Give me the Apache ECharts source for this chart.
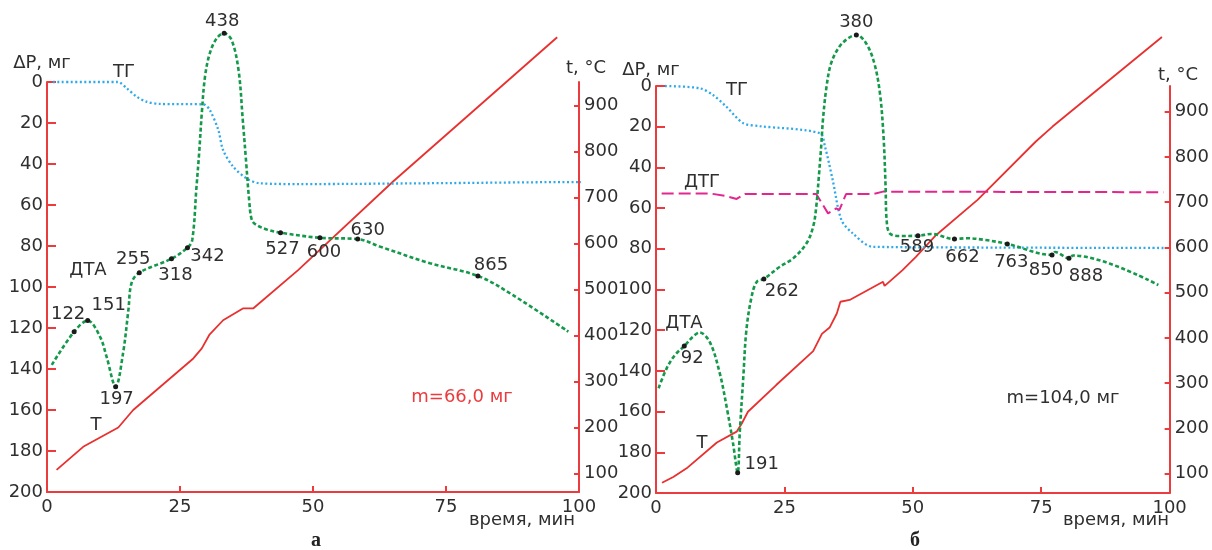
<!DOCTYPE html>
<html><head><meta charset="utf-8">
<script src="https://cdn.jsdelivr.net/npm/echarts@6/dist/echarts.min.js"></script>
<style>html,body{margin:0;padding:0;background:#fff}#c{width:1212px;height:550px}</style>
</head><body><div id="c"></div>
<script>
// ---------- DATA (time in min, ΔP in mg, t in °C) ----------
const timeTicks = [0, 25, 50, 75, 100];
const massTicks = [0, 20, 40, 60, 80, 100, 120, 140, 160, 180, 200];
const tempTicks = [100, 200, 300, 400, 500, 600, 700, 800, 900];

// Panel а
const tgA = [[1.1,0],[13.3,0],[15,3.1],[16.9,7.2],[18.7,9.6],[21.2,10.7],[29.4,10.9],[30.6,13.7],[32.2,23.4],[33.1,33.2],[35,41.3],[37.5,47],[40,49.4],[47.6,49.8],[75.8,49.3],[100,48.8],[101.7,48.8]];
const dtaA = [[0.9,138],[5.1,121.8],[7.65,116.4],[9.96,124.2],[11.2,134],[12.9,148.6],[14.3,132.2],[15.3,111.2],[15.9,98],[17.35,93],[23.4,86.2],[26.4,80.8],[27.3,77.1],[28.1,51.1],[28.6,34.6],[29.1,15.1],[29.7,-2.6],[30.6,-14],[31.9,-21.3],[33.3,-23.8],[34.7,-20.5],[36,-5.9],[36.8,18.5],[37.4,38],[38,57.6],[38.5,67.3],[39.4,69.8],[41.3,71.9],[43.9,73.5],[51.3,76],[58.4,76.6],[62.6,80.3],[72,88.4],[81,94.6],[87.6,104],[98,121.8]];
const tA = [[1.8,108],[6.8,158],[13.4,200],[16.2,238],[27.5,350],[29.1,372],[30.5,401],[33.1,433],[36.9,459],[38.8,459],[47.2,542],[65,734],[95.9,1048]];
const dotsA = [[5.1,121.8,'122'],[7.65,116.4,'151'],[12.9,148.6,'197'],[17.35,93,'255'],[23.4,86.2,'318'],[26.4,80.8,'342'],[33.3,-23.8,'438'],[43.9,73.5,'527'],[51.3,76,'600'],[58.4,76.6,'630'],[81,94.6,'865']];

// Panel б
const tgB = [[1.75,0],[8.5,1.1],[11.1,4.4],[13.7,10.2],[17,18.3],[20.2,19.7],[31.9,23.2],[32.9,29.8],[34.4,46.2],[36.1,65.8],[38.3,72.4],[42.2,79],[66.8,79.4],[98.8,79.6]];
const dtgB = [[1.1,52.8],[10.5,52.8],[13.4,54],[15.7,55.5],[17.3,53.1],[31.2,53.1],[33.5,62.6],[35.1,60.1],[35.7,60.9],[37,53.1],[42.2,53.1],[44.2,51.9],[98.8,52.2]];
const dtaB = [[0.5,148.5],[2.1,138.6],[3.7,132.2],[5.5,127.8],[7.2,123.2],[8.5,121.1],[10.5,126],[12.4,141],[13.9,159.7],[15,175.6],[15.9,190],[16.3,170.7],[17,142.9],[17.6,119.9],[18.6,103.7],[19.6,96.3],[21,94.8],[24.1,88.8],[26.7,84.7],[29.3,77.3],[30.6,69.1],[31.2,59.3],[31.7,44.6],[32.2,28.2],[32.5,16.7],[33.2,0.3],[34.1,-11.2],[35.7,-19.3],[37.4,-23.4],[39,-25.1],[40.9,-21],[42.5,-11.2],[43.6,3.6],[44.3,24.9],[44.7,49.5],[44.9,65.8],[45.5,72.4],[47.4,73.7],[51,73.6],[53.6,72.7],[58.1,75.2],[60.4,74.8],[64.2,75.7],[68.4,77.6],[77.1,83],[77.7,81.6],[80.4,84.7],[81.2,83.3],[97.8,97.8]];
const tB = [[1.17,80],[3.36,93],[5.96,112],[11.85,169],[15.7,193],[16.7,211],[17.9,237],[23.4,296],[30.6,371],[32.3,409],[33.8,423],[35.2,454],[35.9,480],[37.7,484],[44.2,524],[44.5,515],[44.9,519],[48,550],[50.6,579],[54.5,627],[62.6,705],[73.95,834],[77.2,867],[98.5,1065]];
const dotsB = [[5.5,127.8,'92'],[15.9,190,'191'],[21,94.8,'262'],[39,-25.1,'380'],[51,73.6,'589'],[58.1,75.2,'662'],[68.4,77.6,'763'],[77.1,83,'850'],[80.4,84.7,'888']];

// ---------- STYLE ----------
const RED = '#ec3b3d', TRED = '#e8302f', GREEN = '#14994a', BLUE = '#2ea9ea', MAG = '#e2258f', TXT = '#2f2f2f';
const FONT = 'DejaVu Sans';
const FS = 18;
// label offsets (px) relative to each marked point
const offA = {'122':[-6,-17],'151':[21,-15],'197':[1,13],'255':[-6,-13],'318':[4,17],'342':[20,9],'438':[-2,-12],'527':[2,17],'600':[4,15],'630':[10,-9],'865':[13,-11]};
const offB = {'92':[8,12],'191':[24,-8],'262':[18,12],'380':[0,-13],'589':[-1,12],'662':[8,18],'763':[4,18],'850':[-6,15],'888':[17,18]};

const lbl = {color: TXT, fontFamily: FONT, fontSize: FS};

function xAx(g){
  return {type:'value', gridIndex:g, min:0, max:100, interval:25,
    axisLine:{onZero:false, lineStyle:{color:RED, width:2}},
    axisTick:{inside:true, length:6, lineStyle:{color:RED, width:2}},
    axisLabel:Object.assign({margin:6}, lbl), splitLine:{show:false}};
}
function yLeft(g){
  return {type:'value', gridIndex:g, position:'left', min:0, max:200, interval:20, inverse:true,
    axisLine:{show:true, onZero:false, lineStyle:{color:RED, width:2}},
    axisTick:{show:true, inside:true, length:9, lineStyle:{color:RED, width:2}},
    axisLabel:Object.assign({margin:4}, lbl), splitLine:{show:false}};
}
function yRight(g, mn, mx){
  return {type:'value', gridIndex:g, position:'right', min:mn, max:mx,
    axisLine:{show:true, onZero:false, lineStyle:{color:RED, width:2}},
    axisTick:{show:true, inside:true, length:5, customValues:tempTicks, lineStyle:{color:RED, width:2}},
    axisLabel:Object.assign({margin:5, customValues:tempTicks}, lbl), splitLine:{show:false}};
}
function lineS(data, xi, yi, color, type, width, smooth){
  return {type:'line', xAxisIndex:xi, yAxisIndex:yi, data:data, symbol:'none', clip:false,
    smooth:smooth, smoothMonotone:'none', silent:true, z:3,
    lineStyle:{color:color, type:type, width:width}};
}
function dotS(dots, xi, yi, off){
  return {type:'scatter', xAxisIndex:xi, yAxisIndex:yi, symbolSize:5, clip:false, z:5, silent:true,
    itemStyle:{color:'#1a1a1a', opacity:1},
    data: dots.map(d => ({value:[d[0], d[1]], name:d[2],
      label:{show:true, position:'inside', offset:off[d[2]], formatter:d[2], color:TXT,
        textBorderWidth:0, textBorderColor:'transparent', textShadowBlur:0,
        fontFamily:FONT, fontSize:FS, align:'center', verticalAlign:'middle'}}))};
}
function txt(s, x, y, opt){
  opt = opt || {};
  return {type:'text', x:x, y:y, z:10, silent:true,
    style:{text:s, fill:opt.color || TXT, font:(opt.font || (FS + 'px "' + FONT + '"')),
      align:'center', verticalAlign:'middle', textAlign:'center', textVerticalAlign:'middle'}};
}

const option = {
  animation:false,
  backgroundColor:'#fff',
  grid:[
    {left:47, top:82, width:532, height:410, containLabel:false},
    {left:656, top:86, width:515, height:407, containLabel:false}
  ],
  xAxis:[xAx(0), xAx(1)],
  yAxis:[yLeft(0), yRight(0, 59.8, 950.7), yLeft(1), yRight(1, 57.5, 956.6)],
  series:[
    lineS(tA, 0, 1, TRED, 'solid', 1.8, false),
    lineS(tgA, 0, 0, BLUE, [2,2.5], 2.3, 0.3),
    lineS(dtaA, 0, 0, GREEN, [4,2.5], 2.6, 0.35),
    dotS(dotsA, 0, 0, offA),
    lineS(tB, 1, 3, TRED, 'solid', 1.8, false),
    lineS(tgB, 1, 2, BLUE, [2,2.5], 2.3, 0.3),
    lineS(dtgB, 1, 2, MAG, [12,5], 2, false),
    lineS(dtaB, 1, 2, GREEN, [4,2.5], 2.6, 0.35),
    dotS(dotsB, 1, 2, offB)
  ],
  graphic:[
    txt('ΔP, мг', 42, 63),
    txt('t, °C', 586, 68),
    txt('время, мин', 522, 520),
    txt('ТГ', 124, 72),
    txt('ДТА', 88, 270),
    txt('Т', 96, 425),
    txt('m=66,0 мг', 462, 397, {color:RED}),
    txt('а', 316, 541, {font:'bold 20px "Liberation Serif"', color:'#222'}),
    txt('ΔP, мг', 651, 70),
    txt('t, °C', 1178, 75),
    txt('время, мин', 1116, 520),
    txt('ТГ', 737, 90),
    txt('ДТГ', 702, 182),
    txt('ДТА', 684, 323),
    txt('Т', 702, 443),
    txt('m=104,0 мг', 1063, 398),
    txt('б', 915, 541, {font:'bold 20px "Liberation Serif"', color:'#222'})
  ]
};
const chart = echarts.init(document.getElementById('c'), null, {renderer:'canvas'});
chart.setOption(option);
</script></body></html>
